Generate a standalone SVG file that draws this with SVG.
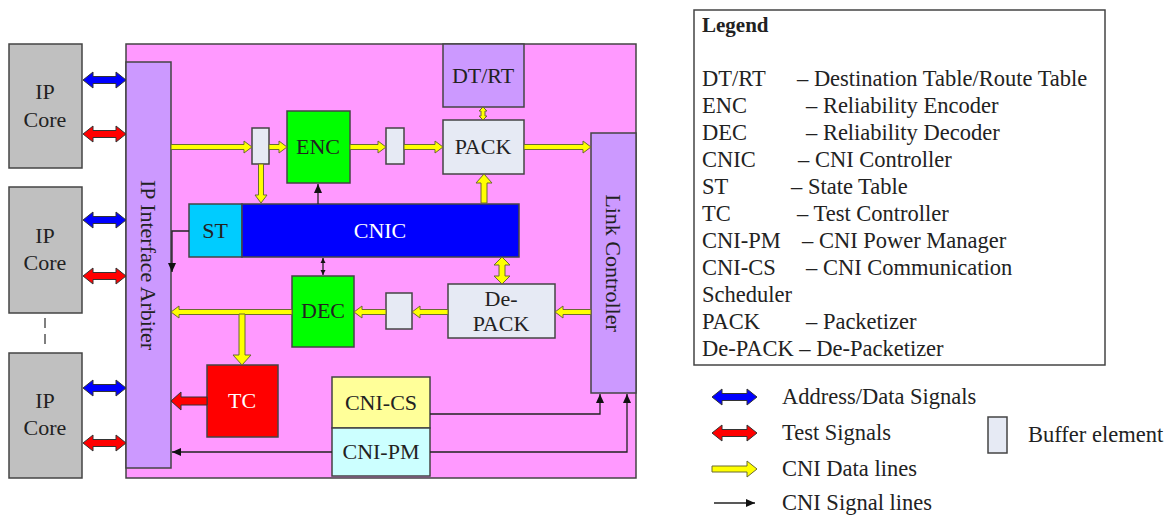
<svg xmlns="http://www.w3.org/2000/svg" width="1174" height="517" viewBox="0 0 1174 517">
<defs>
<style>
text{font-family:"Liberation Serif","Times New Roman",serif;font-size:22px;fill:#222;}
.lg{font-size:22.5px;}
.box{stroke:#444;stroke-width:1.5;}
.core{fill:#c0c0c0;}
.buf{fill:#e6eaf4;}
.yel{fill:#ffff00;stroke:#6b6b30;stroke-width:1;}
.blu{fill:#0000ff;stroke:#333;stroke-width:1;}
.red{fill:#ff0000;stroke:#333;stroke-width:1;}
.sig{fill:none;stroke:#222;stroke-width:1.3;}
.c{text-anchor:middle;}
</style>
<marker id="ah" markerWidth="10" markerHeight="10" refX="9" refY="5" orient="auto-start-reverse" markerUnits="userSpaceOnUse">
<path d="M0,1 L9,5 L0,9 Z" fill="#111"/>
</marker>
<marker id="sm" markerWidth="6" markerHeight="6" refX="5" refY="3" orient="auto-start-reverse" markerUnits="userSpaceOnUse">
<path d="M0,0.5 L5,3 L0,5.5 Z" fill="#111"/>
</marker>
</defs>
<rect width="1174" height="517" fill="#ffffff"/>

<g id="cni">
<rect x="126" y="44" width="510" height="434" fill="#ff99ff" class="box"/>
</g>

<g id="ipcore1"><rect x="9" y="44" width="73" height="124" class="box core"/><text x="45" y="99" class="c">IP</text><text x="45" y="127" class="c">Core</text></g>
<g id="ipcore2"><rect x="9" y="187" width="73" height="126" class="box core"/><text x="45" y="243" class="c">IP</text><text x="45" y="270" class="c">Core</text></g>
<g id="ipcore3"><rect x="9" y="353" width="73" height="125" class="box core"/><text x="45" y="408" class="c">IP</text><text x="45" y="435" class="c">Core</text></g>
<line x1="45" y1="318" x2="45" y2="347" stroke="#555" stroke-width="1.5" stroke-dasharray="10,6"/>

<g id="arbiter"><rect x="126" y="62" width="45" height="406" fill="#cc99ff" class="box"/><text x="148" y="265" class="c" dominant-baseline="central" transform="rotate(90 148 265)">IP Interface Arbiter</text></g>
<g id="linkctrl"><rect x="591" y="133" width="45" height="260" fill="#cc99ff" class="box"/><text x="613" y="263" class="c" dominant-baseline="central" transform="rotate(90 613 263)">Link Controller</text></g>
<g id="dtrt"><rect x="443" y="44" width="81" height="63" fill="#cc99ff" class="box"/><text x="483" y="83" class="c">DT/RT</text></g>
<g id="pack"><rect x="443" y="120" width="81" height="54" class="box buf"/><text x="483" y="154" class="c">PACK</text></g>
<g id="buf1"><rect x="252" y="128" width="17" height="36" class="box buf"/></g>
<g id="enc"><rect x="287" y="111" width="63" height="72" fill="#00ff00" class="box"/><text x="318" y="154" class="c">ENC</text></g>
<g id="buf2"><rect x="386" y="128" width="18" height="36" class="box buf"/></g>
<g id="st"><rect x="189" y="204" width="53" height="53" fill="#00ccff" class="box"/><text x="215" y="238" class="c">ST</text></g>
<g id="cnic"><rect x="242" y="204" width="277" height="53" fill="#0000ff" class="box"/><text x="380" y="238" class="c" style="fill:#ffffff">CNIC</text></g>
<g id="dec"><rect x="292" y="276" width="62" height="71" fill="#00ff00" class="box"/><text x="323" y="318" class="c">DEC</text></g>
<g id="buf3"><rect x="386" y="293" width="26" height="36" class="box buf"/></g>
<g id="depack"><rect x="448" y="284" width="107" height="54" class="box buf"/><text x="501" y="306" class="c">De-</text><text x="501" y="331" class="c">PACK</text></g>
<g id="tc"><rect x="207" y="365" width="71" height="72" fill="#ff0000" class="box"/><text x="242" y="408" class="c" style="fill:#ffffff">TC</text></g>
<g id="cnics"><rect x="332" y="377" width="98" height="51" fill="#ffff99" class="box"/><text x="381" y="410" class="c">CNI-CS</text></g>
<g id="cnipm"><rect x="332" y="428" width="98" height="48" fill="#ccffff" class="box"/><text x="381" y="459" class="c">CNI-PM</text></g>

<g id="connectors">
<polygon class="blu" points="83,80 93,72 93,76.5 116,76.5 116,72 126,80 116,88 116,83.5 93,83.5 93,88"/>
<polygon class="red" points="83,134 93,126 93,130.5 116,130.5 116,126 126,134 116,142 116,137.5 93,137.5 93,142"/>
<polygon class="blu" points="83,220 93,212 93,216.5 116,216.5 116,212 126,220 116,228 116,223.5 93,223.5 93,228"/>
<polygon class="red" points="83,276 93,268 93,272.5 116,272.5 116,268 126,276 116,284 116,279.5 93,279.5 93,284"/>
<polygon class="blu" points="83,388 93,380 93,384.5 116,384.5 116,380 126,388 116,396 116,391.5 93,391.5 93,396"/>
<polygon class="red" points="83,443 93,435 93,439.5 116,439.5 116,435 126,443 116,451 116,446.5 93,446.5 93,451"/>

<polygon class="yel" points="171,144.5 244,144.5 244,141 252,147 244,153 244,149.5 171,149.5"/>
<polygon class="yel" points="269,144.5 279,144.5 279,141 287,147 279,153 279,149.5 269,149.5"/>
<polygon class="yel" points="350,144.5 378,144.5 378,141 386,147 378,153 378,149.5 350,149.5"/>
<polygon class="yel" points="404,144.5 435,144.5 435,141 443,147 435,153 435,149.5 404,149.5"/>
<polygon class="yel" points="524,144.5 583,144.5 583,141 591,147 583,153 583,149.5 524,149.5"/>
<polygon class="yel" points="258.5,164 258.5,195 255,195 261,203 267,195 263.5,195 263.5,164"/>
<polygon class="yel" points="481,203 481,183 476,183 484,174 492,183 487,183 487,203"/>
<polygon class="yel" points="483,107 487,111 485,111 485,116 487,116 483,120 479,116 481,116 481,111 479,111"/>
<polygon class="yel" points="502,257 510,265 505,265 505,276 510,276 502,284 494,276 499,276 499,265 494,265"/>
<polygon class="yel" points="591,309.5 563,309.5 563,306 555,312 563,318 563,314.5 591,314.5"/>
<polygon class="yel" points="448,309.5 420,309.5 420,306 412,312 420,318 420,314.5 448,314.5"/>
<polygon class="yel" points="386,309.5 362,309.5 362,306 354,312 362,318 362,314.5 386,314.5"/>
<polygon class="yel" points="292,309.5 179,309.5 179,306 171,312 179,318 179,314.5 292,314.5"/>
<polygon class="yel" points="239,314 239,355 233,355 242,365 251,355 245,355 245,314"/>
<polygon class="red" points="207,397 181,397 181,392 171,401 181,410 181,405 207,405"/>

<line class="sig" x1="318" y1="204" x2="318" y2="184" marker-end="url(#ah)"/>
<line class="sig" x1="323" y1="258" x2="323" y2="275" marker-start="url(#sm)" marker-end="url(#sm)"/>
<polyline class="sig" points="189,231 172,231 172,272" marker-end="url(#ah)"/>
<polyline class="sig" points="430,414 600,414 600,394" marker-end="url(#ah)"/>
<polyline class="sig" points="430,452 627,452 627,394" marker-end="url(#ah)"/>
<line class="sig" x1="332" y1="452" x2="172" y2="452" marker-end="url(#ah)"/>
</g>

<g id="legend">
<rect x="694" y="10" width="411" height="355" fill="#ffffff" stroke="#444" stroke-width="1.5"/>
<text x="702" y="32" class="lg" style="font-weight:bold;font-size:21px">Legend</text>
<text x="702" y="86" class="lg">DT/RT</text><text x="797" y="86" class="lg">– Destination Table/Route Table</text>
<text x="702" y="113" class="lg">ENC</text><text x="806" y="113" class="lg">– Reliability Encoder</text>
<text x="702" y="140" class="lg">DEC</text><text x="806" y="140" class="lg">– Reliability Decoder</text>
<text x="702" y="167" class="lg">CNIC</text><text x="798" y="167" class="lg">– CNI Controller</text>
<text x="702" y="194" class="lg">ST</text><text x="791" y="194" class="lg">– State Table</text>
<text x="702" y="221" class="lg">TC</text><text x="797" y="221" class="lg">– Test Controller</text>
<text x="702" y="248" class="lg">CNI-PM</text><text x="802" y="248" class="lg">– CNI Power Manager</text>
<text x="702" y="275" class="lg">CNI-CS</text><text x="806" y="275" class="lg">– CNI Communication</text>
<text x="702" y="302" class="lg">Scheduler</text>
<text x="702" y="329" class="lg">PACK</text><text x="806" y="329" class="lg">– Packetizer</text>
<text x="702" y="356" class="lg">De-PACK – De-Packetizer</text>

<polygon class="blu" points="712,397 722,389 722,393.5 747,393.5 747,389 757,397 747,405 747,400.5 722,400.5 722,405"/>
<text x="782" y="404" class="lg">Address/Data Signals</text>
<polygon class="red" points="712,433 722,425 722,429.5 747,429.5 747,425 757,433 747,441 747,436.5 722,436.5 722,441"/>
<text x="782" y="440" class="lg">Test Signals</text>
<polygon class="yel" points="712,466 747,466 747,461 757,469 747,477 747,472 712,472"/>
<text x="782" y="476" class="lg">CNI Data lines</text>
<line class="sig" x1="714" y1="503" x2="755" y2="503" marker-end="url(#ah)"/>
<text x="782" y="510" class="lg">CNI Signal lines</text>
<rect x="988" y="417" width="19" height="36" class="box buf"/>
<text x="1028" y="442" class="lg">Buffer element</text>
</g>
</svg>
